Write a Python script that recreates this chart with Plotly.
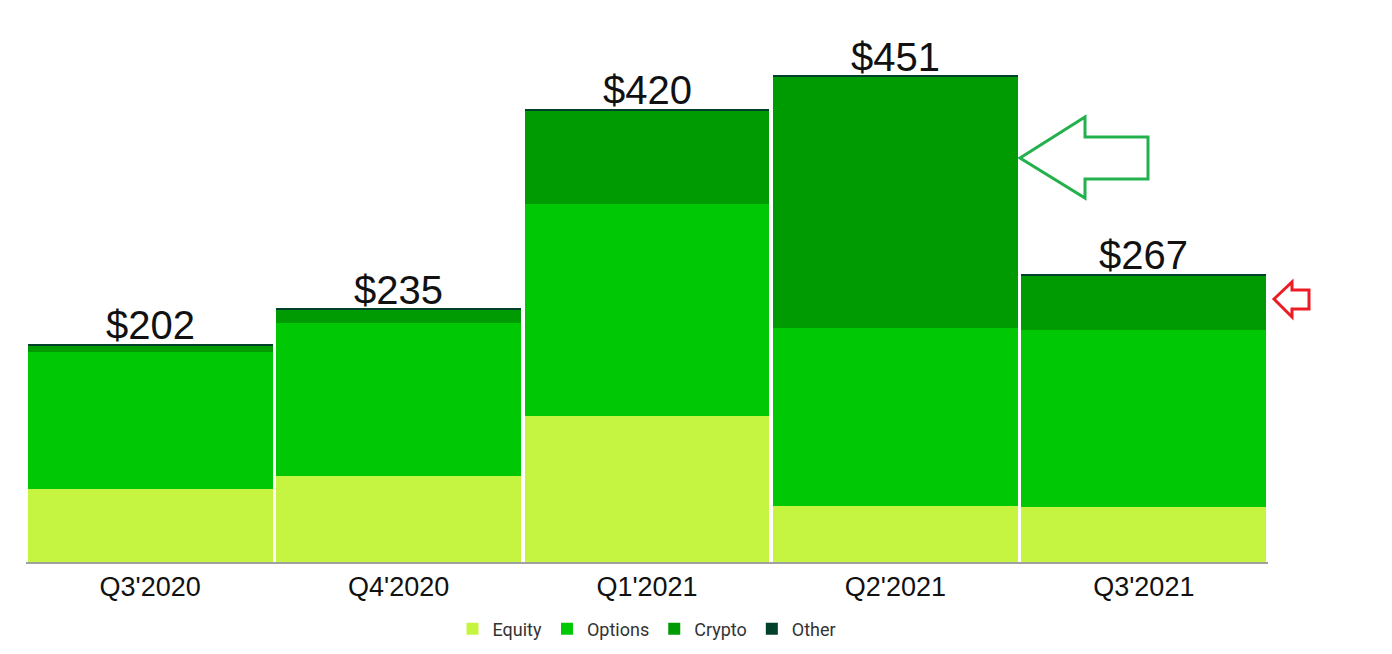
import plotly.graph_objects as go

categories = ["Q3'2020", "Q4'2020", "Q1'2021", "Q2'2021", "Q3'2021"]
equity = [68, 80, 135, 52, 51]
options = [127, 142, 197, 165, 164]
crypto = [5, 12, 87, 233, 51]
other = [2, 1, 1, 1, 1]
totals = [202, 235, 420, 451, 267]
total_labels = ["$202", "$235", "$420", "$451", "$267"]

W, H = 1392, 654
L, R, T, B = 26, 124, 20, 92
PW, PH = W - L - R, H - T - B

def px(x):
    return (x - L) / PW

def py(y):
    return (H - B - y) / PH

fig = go.Figure()
series = [("Equity", equity, "#c6f541"), ("Options", options, "#00c805"),
          ("Crypto", crypto, "#009a03"), ("Other", other, "#01402a")]
for name, vals, col in series:
    fig.add_trace(go.Bar(x=categories, y=vals, name=name,
                         marker=dict(color=col, line=dict(width=0))))

for c, t, lab in zip(categories, totals, total_labels):
    fig.add_annotation(x=c, y=t, text=lab, showarrow=False, yanchor="bottom",
                       yshift=-5,
                       font=dict(family="Liberation Sans", size=40, color="#111"))

def path(pts):
    s = "M " + " L ".join(f"{px(x):.5f},{py(y):.5f}" for x, y in pts) + " Z"
    return s

green_arrow = [(1020, 158), (1085, 117), (1085, 137), (1148, 137),
               (1148, 179), (1085, 179), (1085, 198)]
red_arrow = [(1274, 299), (1292, 282), (1292, 290), (1309, 290),
             (1309, 309), (1292, 309), (1292, 317)]
fig.add_shape(type="path", xref="paper", yref="paper", path=path(green_arrow),
              line=dict(color="#22b14c", width=3))
fig.add_shape(type="path", xref="paper", yref="paper", path=path(red_arrow),
              line=dict(color="#ed1c24", width=3))

fig.update_layout(
    width=W, height=H, barmode="stack", bargap=0.015,
    margin=dict(l=L, r=R, t=T, b=B, autoexpand=False),
    paper_bgcolor="white", plot_bgcolor="white",
    showlegend=True,
    legend=dict(orientation="h", x=0.5, xanchor="center", y=py(629), yanchor="middle",
                font=dict(family="Roboto", size=18, color="#333"),
                traceorder="normal"),
    xaxis=dict(showline=True, linecolor="#a0a0a0", linewidth=2, showgrid=False,
               ticks="", tickfont=dict(family="Liberation Sans", size=27, color="#111")),
    yaxis=dict(visible=False, range=[0, PH / 1.078], showgrid=False),
)

fig.write_html("out.html")
